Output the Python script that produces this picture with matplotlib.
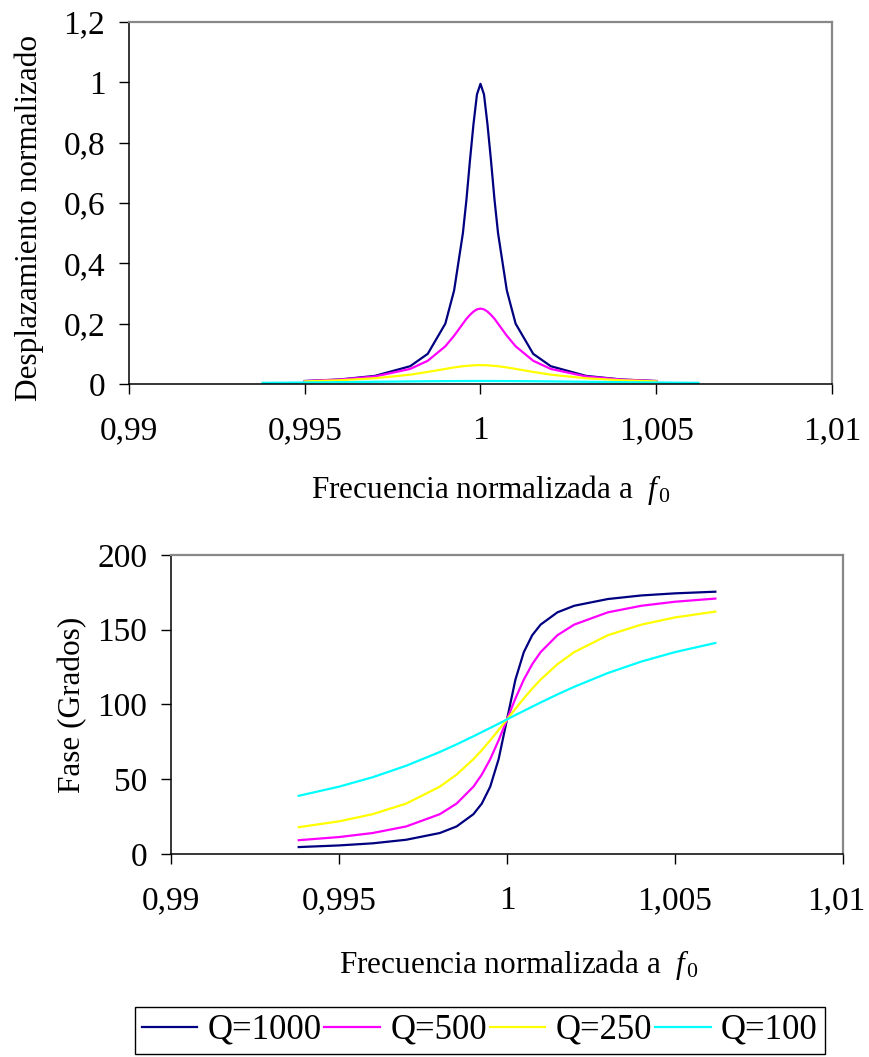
import matplotlib
matplotlib.use("Agg")
import matplotlib.pyplot as plt
import matplotlib.transforms as mtrans
from matplotlib.ticker import FuncFormatter

plt.rcParams['font.family'] = ['Liberation Serif', 'DejaVu Serif']
plt.rcParams['mathtext.fontset'] = 'custom'
plt.rcParams['mathtext.it'] = 'Liberation Serif:italic'
plt.rcParams['mathtext.rm'] = 'Liberation Serif'

# Desplazamiento normalizado (grafico superior)
f_top = [0.995, 0.996, 0.997, 0.998, 0.9985, 0.999, 0.99925, 0.9995, 0.9996,
         0.9997, 0.9998, 0.9999, 1.0, 1.0001, 1.0002, 1.0003, 1.0004, 1.0005,
         1.00075, 1.001, 1.0015, 1.002, 1.003, 1.004, 1.005]
amp_q1000 = [0.010, 0.015, 0.027, 0.059, 0.10, 0.20, 0.31, 0.50, 0.61, 0.74, 0.86,
             0.96, 0.995, 0.96, 0.86, 0.74, 0.61, 0.50, 0.31, 0.20, 0.10, 0.059,
             0.027, 0.015, 0.010]
amp_q500 = [0.0096, 0.0147, 0.025, 0.050, 0.077, 0.125, 0.16, 0.20, 0.216, 0.229,
            0.240, 0.2475, 0.25, 0.2475, 0.240, 0.229, 0.216, 0.20, 0.16, 0.125,
            0.077, 0.050, 0.025, 0.0147, 0.0096]
amp_q250 = [0.0086, 0.0125, 0.019, 0.031, 0.040, 0.050, 0.055, 0.059, 0.060, 0.061,
            0.062, 0.0625, 0.0625, 0.0625, 0.062, 0.061, 0.060, 0.059, 0.055, 0.050,
            0.040, 0.031, 0.019, 0.0125, 0.0086]
f_top_q100 = [0.9938, 0.995, 0.996, 0.997, 0.998, 0.9985, 0.999, 0.9995, 1.0,
              1.0005, 1.001, 1.0015, 1.002, 1.003, 1.004, 1.005, 1.0062]
amp_q100 = [0.0039, 0.005, 0.0061, 0.0074, 0.0086, 0.0092, 0.0096, 0.0099, 0.01,
            0.0099, 0.0096, 0.0092, 0.0086, 0.0074, 0.0061, 0.005, 0.0039]

# Fase en grados (grafico inferior)
f_fase = [0.9938, 0.995, 0.996, 0.997, 0.998, 0.9985, 0.999, 0.99925, 0.9995,
          0.99975, 1.0, 1.00025, 1.0005, 1.00075, 1.001, 1.0015, 1.002, 1.003,
          1.004, 1.005, 1.0062]
fase_q1000 = [4.6, 5.7, 7.1, 9.5, 14.0, 18.4, 26.6, 33.7, 45.0, 63.4, 90.0, 116.6,
              135.0, 146.3, 153.4, 161.6, 166.0, 170.5, 172.9, 174.3, 175.4]
fase_q500 = [9.2, 11.3, 14.0, 18.4, 26.6, 33.7, 45.0, 53.1, 63.4, 76.0, 90.0, 104.0,
             116.6, 126.9, 135.0, 146.3, 153.4, 161.6, 166.0, 168.7, 170.8]
fase_q250 = [17.9, 21.8, 26.6, 33.7, 45.0, 53.1, 63.4, 69.4, 76.0, 82.9, 90.0, 97.1,
             104.0, 110.6, 116.6, 126.9, 135.0, 146.3, 153.4, 158.2, 162.1]
fase_q100 = [38.9, 45.0, 51.3, 59.0, 68.2, 73.3, 78.7, 81.5, 84.3, 87.1, 90.0, 92.9,
             95.7, 98.5, 101.3, 106.7, 111.8, 121.0, 128.7, 135.0, 141.1]

labels = ["Q=1000", "Q=500", "Q=250", "Q=100"]
colors = ["#000080", "#FF00FF", "#FFFF00", "#00FFFF"]
x_ticks = [0.99, 0.995, 1.0, 1.005, 1.01]

FS_TICK = 24
FS_LABEL = 22.5
FS_LEG = 25
coma = FuncFormatter(lambda v, _: f"{v:g}".replace(".", ","))


def estilo(ax):
    ax.spines['left'].set_color('black')
    ax.spines['bottom'].set_color('black')
    ax.spines['left'].set_linewidth(1.1)
    ax.spines['bottom'].set_linewidth(1.1)
    for s in ['top', 'right']:
        ax.spines[s].set_color('#888888')
        ax.spines[s].set_linewidth(1.6)
    ax.tick_params(direction='out', length=7, width=1.0, labelsize=FS_TICK)
    ax.tick_params(axis='x', pad=16)
    ax.tick_params(axis='y', pad=10)
    ax.xaxis.set_major_formatter(coma)
    ax.yaxis.set_major_formatter(coma)
    ax.set_xticks(x_ticks)
    ax.set_xlim(0.99, 1.01)


fig = plt.figure(figsize=(8.69, 10.57), dpi=100)

xlabel = r"Frecuencia normalizada a  $\mathit{f}_{\,\mathit{0}}$"

# grafico superior
ax1 = fig.add_axes([0.1484, 0.6367, 0.809, 0.3425])
ax1.plot(f_top, amp_q1000, color=colors[0], lw=1.6)
ax1.plot(f_top, amp_q500, color=colors[1], lw=1.6)
ax1.plot(f_top, amp_q250, color=colors[2], lw=1.6)
ax1.plot(f_top_q100, amp_q100, color=colors[3], lw=1.6)
estilo(ax1)
ax1.set_ylim(0, 1.2)
ax1.set_yticks([0, 0.2, 0.4, 0.6, 0.8, 1.0, 1.2])
ax1.set_ylabel("Desplazamiento normalizado", fontsize=FS_LABEL, va='center')
ax1.yaxis.set_label_coords(-0.142, 0.459)
ax1.set_xlabel(xlabel, fontsize=FS_LABEL, va='center')
ax1.xaxis.set_label_coords(0.515, -0.293)

# grafico inferior
ax2 = fig.add_axes([0.1968, 0.1921, 0.7733, 0.2829])
lineas = []
for fase, c, lab in zip([fase_q1000, fase_q500, fase_q250, fase_q100], colors, labels):
    ln, = ax2.plot(f_fase, fase, color=c, lw=1.6, label=lab)
    lineas.append(ln)
estilo(ax2)
ax2.set_ylim(0, 200)
ax2.set_yticks([0, 50, 100, 150, 200])
ax2.set_ylabel("Fase (Grados)", fontsize=FS_LABEL, va='center')
ax2.yaxis.set_label_coords(-0.147, 0.5)
ax2.set_xlabel(xlabel, fontsize=FS_LABEL, va='center')
ax2.xaxis.set_label_coords(0.518, -0.371)

# la etiqueta "1,01" de abajo queda pegada al borde: correrla un poco
ultima = ax2.get_xticklabels()[-1]
ultima.set_transform(ultima.get_transform() +
                     mtrans.ScaledTranslation(-5 / 72, 0, fig.dpi_scale_trans))

leg = fig.legend(lineas, labels, loc='lower left', ncol=4, mode='expand',
                 bbox_to_anchor=(0.155, 0.003, 0.794, 0.044), fontsize=FS_LEG,
                 frameon=True, fancybox=False, edgecolor='black', framealpha=1,
                 handlelength=1.6, handletextpad=0.3, columnspacing=0.6,
                 borderpad=0.2, borderaxespad=0)
leg.get_frame().set_linewidth(1.0)

fig.savefig("out.png", dpi=100)
